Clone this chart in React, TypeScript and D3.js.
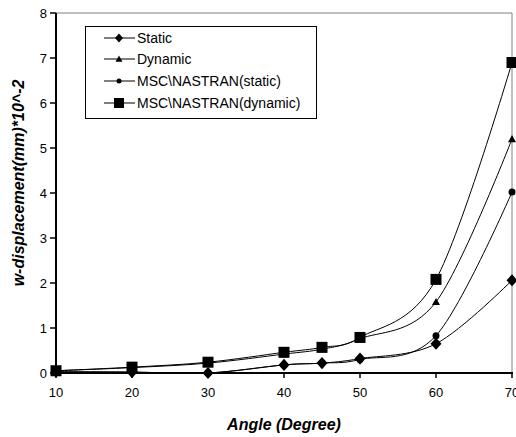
import React from "react";
import * as d3 from "d3";

const angles = [10, 20, 30, 40, 45, 50, 60, 70];
const staticVals = [0.03, 0.02, 0.0, 0.18, 0.22, 0.32, 0.65, 2.06];
const dynamicVals = [0.05, 0.12, 0.22, 0.42, 0.53, 0.76, 1.58, 5.2];
const mscStaticVals = [0.02, 0.02, 0.0, 0.18, 0.22, 0.3, 0.83, 4.02];
const mscDynamicVals = [0.05, 0.13, 0.24, 0.46, 0.57, 0.79, 2.08, 6.9];
const seriesNames = ["Static", "Dynamic", "MSC\\NASTRAN(static)", "MSC\\NASTRAN(dynamic)"];
const xTicks = [10, 20, 30, 40, 50, 60, 70];
const yTicks = [0, 1, 2, 3, 4, 5, 6, 7, 8];

const W = 516, H = 437;
const left = 56, right = 512, top = 13, bottom = 373;
const FONT = "Liberation Sans, Arial, sans-serif";

type Shape = "diamond" | "triangle" | "circle" | "square";

function Marker({ shape, x, y, s }: { shape: Shape; x: number; y: number; s: number }) {
  if (shape === "diamond") {
    const h = s / 2;
    return <path d={`M${x},${y - h * 1.1}L${x + h},${y}L${x},${y + h * 1.1}L${x - h},${y}Z`} fill="#000" />;
  }
  if (shape === "triangle") {
    const h = s / 2;
    return <path d={`M${x},${y - h}L${x + h},${y + h * 0.8}L${x - h},${y + h * 0.8}Z`} fill="#000" />;
  }
  if (shape === "circle") return <circle cx={x} cy={y} r={s / 2} fill="#000" />;
  return <rect x={x - s / 2} y={y - s / 2} width={s} height={s} fill="#000" />;
}

export default function App() {
  const x = d3.scaleLinear().domain([10, 70]).range([left, right]);
  const y = d3.scaleLinear().domain([0, 8]).range([bottom, top]);
  const line = d3
    .line<[number, number]>()
    .x((d) => x(d[0]))
    .y((d) => y(d[1]))
    .curve(d3.curveCardinal.tension(0));

  const series: { vals: number[]; shape: Shape; size: number; legSize: number }[] = [
    { vals: staticVals, shape: "diamond", size: 11, legSize: 8 },
    { vals: dynamicVals, shape: "triangle", size: 8, legSize: 7 },
    { vals: mscStaticVals, shape: "circle", size: 7, legSize: 5 },
    { vals: mscDynamicVals, shape: "square", size: 11, legSize: 10 },
  ];

  const legY = [38, 59, 81, 103];

  return (
    <svg width={W} height={H} style={{ position: "absolute", left: 0, top: 0, background: "#fff" }}>
      <rect x={0} y={0} width={W} height={H} fill="#fff" />
      {/* frame */}
      <line x1={left} x2={right} y1={top} y2={top} stroke="#808080" strokeWidth={1} />
      <line x1={right} x2={right} y1={top} y2={bottom} stroke="#808080" strokeWidth={1} />
      {/* series lines */}
      {series.map((s, i) => (
        <path
          key={i}
          d={line(angles.map((a, j) => [a, s.vals[j]] as [number, number])) || ""}
          fill="none"
          stroke="#000"
          strokeWidth={1}
        />
      ))}
      {/* axes */}
      <line x1={left} x2={left} y1={top} y2={bottom + 1} stroke="#000" strokeWidth={2} />
      <line x1={left - 1} x2={right + 1} y1={bottom} y2={bottom} stroke="#000" strokeWidth={2} />
      {yTicks.map((t) => (
        <g key={t}>
          <line x1={left - 6} x2={left} y1={y(t)} y2={y(t)} stroke="#000" strokeWidth={1.5} />
          <text x={left - 9} y={y(t) + 5} textAnchor="end" fontFamily={FONT} fontSize={13}>
            {t}
          </text>
        </g>
      ))}
      {xTicks.map((t) => (
        <g key={t}>
          <line x1={x(t)} x2={x(t)} y1={bottom} y2={bottom + 5} stroke="#000" strokeWidth={1.5} />
          <text x={x(t)} y={bottom + 24} textAnchor="middle" fontFamily={FONT} fontSize={13}>
            {t}
          </text>
        </g>
      ))}
      {/* markers */}
      {series.map((s, i) =>
        angles.map((a, j) => <Marker key={`${i}-${j}`} shape={s.shape} x={x(a)} y={y(s.vals[j])} s={s.size} />)
      )}
      {/* axis titles */}
      <text
        x={284}
        y={430}
        textAnchor="middle"
        fontFamily={FONT}
        fontSize={16}
        fontWeight="bold"
        fontStyle="italic"
      >
        Angle (Degree)
      </text>
      <text
        transform={`translate(24,183) rotate(-90)`}
        textAnchor="middle"
        fontFamily={FONT}
        fontSize={16}
        fontWeight="bold"
        fontStyle="italic"
      >
        w-displacement(mm)*10^-2
      </text>
      {/* legend */}
      <rect x={85.5} y={26.5} width={231} height={92} fill="#fff" stroke="#000" strokeWidth={1} />
      {series.map((s, i) => (
        <g key={i}>
          <line x1={104} x2={135} y1={legY[i]} y2={legY[i]} stroke="#000" strokeWidth={1} />
          <Marker shape={s.shape} x={119} y={legY[i]} s={s.legSize} />
          <text x={137} y={legY[i] + 5} fontFamily={FONT} fontSize={14}>
            {seriesNames[i]}
          </text>
        </g>
      ))}
    </svg>
  );
}
